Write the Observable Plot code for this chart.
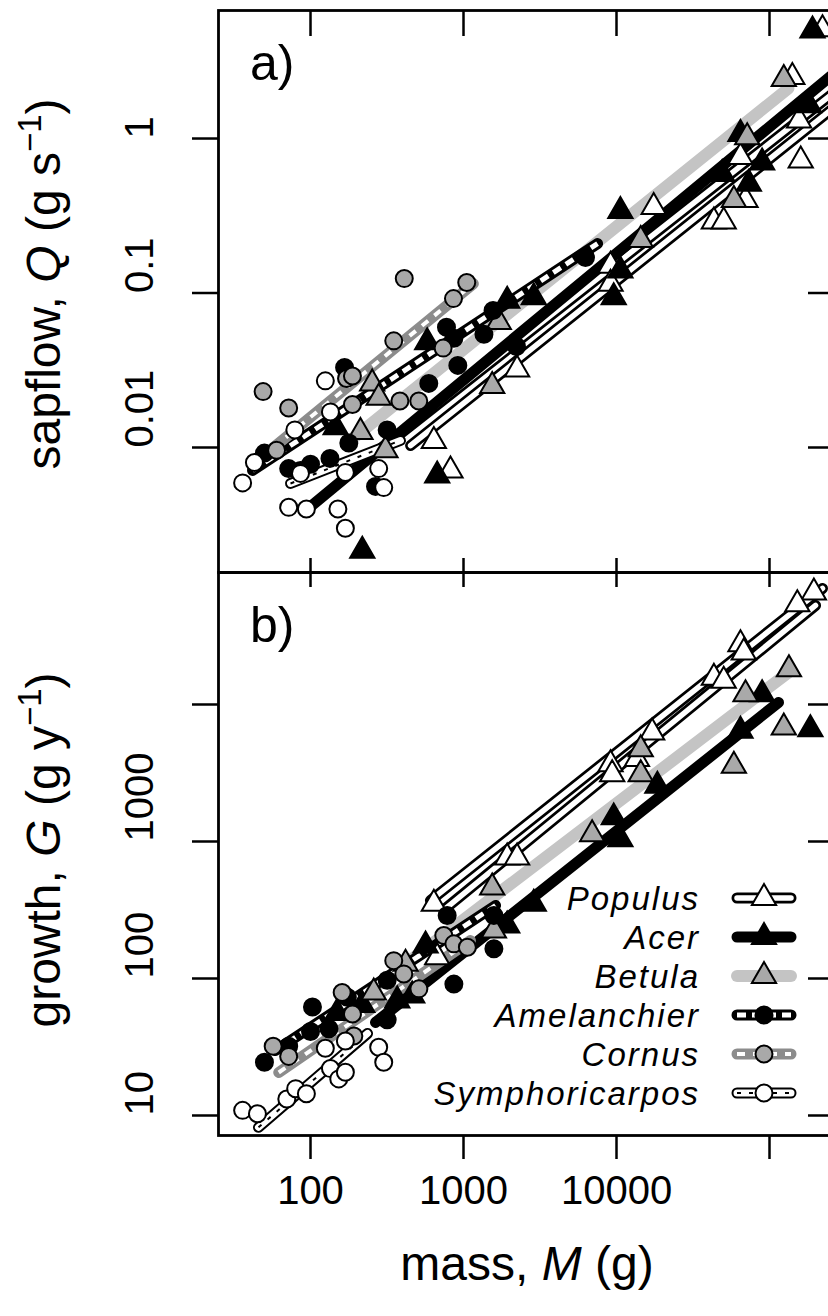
<!DOCTYPE html>
<html><head><meta charset="utf-8">
<script src="https://cdn.jsdelivr.net/npm/d3@7"></script>
<script src="https://cdn.jsdelivr.net/npm/@observablehq/plot@0.6"></script>
<style>
html,body{margin:0;padding:0;background:#fff;overflow:hidden;width:828px;height:1316px;}
#chart{width:860px;}
#chart svg{display:block;max-width:none;}
</style></head><body><div id="chart"></div>
<script>
// ---------- data ----------
const species = ["Populus","Acer","Betula","Amelanchier","Cornus","Symphoricarpos"];

const xTicks = [100, 1000, 10000, 100000];
const xTickLabels = ["100","1000","10000",""];
const yTicksA = [0.01, 0.1, 1];
const yTickLabelsA = ["0.01","0.1","1"];
const yTicksB = [10, 100, 1000, 10000];
const yTickLabelsB = ["10","100","1000",""];

// panel a: sapflow Q (g/s) vs mass M (g)
const populusMassQ = [17500, 64600, 160000, 156000, 69700, 43300, 50200, 9140, 9140, 2240, 640, 822, 141000, 222000];
const populusQ     = [0.36, 0.76, 0.72, 1.31, 0.40, 0.29, 0.29, 0.15, 0.115, 0.032, 0.011, 0.0071, 2.5, 5.1];
const acerMassQ = [10600, 64600, 49100, 89500, 73300, 181000, 191000, 9590, 10600, 1930, 2880, 579, 146, 218, 673];
const acerQ     = [0.34, 1.07, 0.59, 0.70, 0.51, 1.64, 5.0, 0.094, 0.14, 0.089, 0.094, 0.048, 0.0135, 0.00215, 0.0066];
const betulaMassQ = [124000, 71500, 14400, 1540, 1700, 58500, 253, 279, 212, 309];
const betulaQ     = [2.43, 1.02, 0.22, 0.025, 0.065, 0.40, 0.026, 0.021, 0.0126, 0.0096];
const amelMassQ = [167, 774, 865, 1560, 1360, 918, 593, 317, 178, 134, 100, 72, 50, 86, 266, 2220, 6270];
const amelQ     = [0.033, 0.060, 0.051, 0.077, 0.054, 0.034, 0.026, 0.013, 0.0107, 0.0085, 0.0078, 0.0073, 0.0092, 0.0071, 0.0056, 0.045, 0.17];
const cornusMassQ = [410, 1050, 860, 350, 49, 72, 172, 188, 384, 510, 60, 736, 188];
const cornusQ     = [0.124, 0.117, 0.092, 0.049, 0.023, 0.018, 0.028, 0.019, 0.020, 0.020, 0.0096, 0.044, 0.029];
const symphMassQ = [36, 43, 79, 135, 125, 72, 94, 151, 169, 169, 279, 301, 86];
const symphQ     = [0.0059, 0.0080, 0.013, 0.017, 0.027, 0.0041, 0.0040, 0.0040, 0.0030, 0.0069, 0.0073, 0.0055, 0.0068];

// panel b: growth G (g/y) vs mass M (g)
const populusMassG = [195000, 152000, 64600, 67900, 43300, 50200, 17100, 13600, 9140, 9370, 1930, 2240, 640, 673];
const populusG     = [65700, 54000, 27500, 24000, 15700, 14900, 6250, 4000, 3660, 3100, 764, 764, 351, 143];
const acerMassG = [89500, 185000, 64600, 18500, 9590, 10600, 2880, 1930, 565, 462, 369, 218, 149];
const acerG     = [11900, 6600, 6430, 2550, 1500, 1040, 351, 244, 174, 75, 69, 64, 56];
const betulaMassG = [134000, 69700, 124000, 58500, 14400, 14400, 6930, 1540, 1580, 259, 418];
const betulaG     = [18100, 11900, 6790, 3570, 4720, 3100, 1130, 461, 224, 79, 128];
const amelMassG = [782, 1580, 1580, 865, 317, 174, 103, 100, 132, 317, 50, 72];
const amelG     = [288, 288, 165, 91, 97, 73, 62, 41, 43, 50, 24.5, 32];
const cornusMassG = [743, 865, 1060, 350, 407, 511, 188, 57, 72, 192, 161];
const cornusG     = [206, 179, 169, 135, 108, 84, 55, 32, 27, 38, 79];
const symphMassG = [36, 45, 70, 80, 94, 135, 153, 169, 125, 169, 279, 301];
const symphG     = [10.9, 10.3, 13.2, 15.7, 14.4, 22, 18.5, 20.7, 31, 35, 31.5, 24.5];

// fitted lines (end points)
const fitSpecies = ["Populus","Populus","Acer","Betula","Amelanchier","Cornus","Symphoricarpos"];
const fitMassFromA = [451, 387, 92.8, 182, 41.8, 57.3, 74];
const fitMassToA   = [250000, 250000, 250000, 133000, 7520, 1160, 387];
const fitQFromA    = [0.0103, 0.0123, 0.0039, 0.0111, 0.0071, 0.0100, 0.00585];
const fitQToA      = [1.52, 1.90, 2.52, 2.11, 0.209, 0.115, 0.0111];
const fitMassFromB = [608, 762, 266, 247, 59, 62, 45.7];
const fitMassToB   = [222000, 200000, 114500, 133000, 1620, 1110, 236];
const fitGFromB    = [371, 324, 47.8, 81.7, 29.8, 20.6, 8.2];
const fitGToB      = [70300, 52800, 10340, 17140, 341, 189, 39.7];

// ---------- tables ----------
const massQ = [populusMassQ, acerMassQ, betulaMassQ, amelMassQ, cornusMassQ, symphMassQ];
const valQ  = [populusQ, acerQ, betulaQ, amelQ, cornusQ, symphQ];
const massG = [populusMassG, acerMassG, betulaMassG, amelMassG, cornusMassG, symphMassG];
const valG  = [populusG, acerG, betulaG, amelG, cornusG, symphG];
const pointsA = species.flatMap((s, k) => massQ[k].map((m, i) => ({species: s, m, v: valQ[k][i]})));
const pointsB = species.flatMap((s, k) => massG[k].map((m, i) => ({species: s, m, v: valG[k][i]})));
const fitsA = fitSpecies.map((s, i) => ({species: s, m1: fitMassFromA[i], m2: fitMassToA[i], v1: fitQFromA[i], v2: fitQToA[i]}));
const fitsB = fitSpecies.map((s, i) => ({species: s, m1: fitMassFromB[i], m2: fitMassToB[i], v1: fitGFromB[i], v2: fitGToB[i]}));

// ---------- styles ----------
const FONT = "'Liberation Sans', Arial, Helvetica, sans-serif";
const lineStyles = {
  Populus: [{stroke: "black", w: 11}, {stroke: "white", w: 5.5}],
  Acer: [{stroke: "black", w: 11}],
  Betula: [{stroke: "#c4c4c4", w: 12}],
  Amelanchier: [{stroke: "black", w: 11}, {stroke: "white", w: 5, dash: "9,6"}],
  Cornus: [{stroke: "#8c8c8c", w: 11}, {stroke: "white", w: 4, dash: "8,8"}],
  Symphoricarpos: [{stroke: "black", w: 11}, {stroke: "white", w: 7}, {stroke: "black", w: 2, dash: "4,8"}]
};
const markerStyles = {
  Populus: {symbol: "triangle", fill: "white", r: 9},
  Acer: {symbol: "triangle", fill: "black", r: 9},
  Betula: {symbol: "triangle", fill: "#a9a9a9", r: 9},
  Amelanchier: {symbol: "circle", fill: "black", r: 8.5},
  Cornus: {symbol: "circle", fill: "#a9a9a9", r: 8.5},
  Symphoricarpos: {symbol: "circle", fill: "white", r: 8.5}
};

function lineMarks(fits) {
  const marks = [];
  for (const sp of species) {
    const rows = fits.filter(d => d.species === sp);
    for (const p of lineStyles[sp]) {
      marks.push(Plot.link(rows, {x1: "m1", y1: "v1", x2: "m2", y2: "v2",
        stroke: p.stroke, strokeWidth: p.w, strokeLinecap: p.dash ? "butt" : "round",
        strokeDasharray: p.dash}));
    }
  }
  return marks;
}
function dotMarks(points) {
  return species.map(sp => {
    const ms = markerStyles[sp];
    return Plot.dot(points.filter(d => d.species === sp), {x: "m", y: "v",
      symbol: ms.symbol, fill: ms.fill, stroke: "black", strokeWidth: 2, r: ms.r});
  });
}

// ---------- layout ----------
const W = 860, ML = 218, MR = 28, FW = W - ML - MR; // frame 218..832
const xDomain = [25.04, 258100];
const HA = 572, MTA = 10, FHA = HA - MTA;           // panel a frame 10..572
const HB = 744, MBB = 181, FHB = HB - MBB;          // panel b frame 572..1135
const TICKFONT = 40;
const styleObj = {fontFamily: FONT, fontSize: TICKFONT + "px", color: "black", background: "white", maxWidth: "none", overflow: "visible"};
const tickW = 2.5;

const plotA = Plot.plot({
  width: W, height: HA, marginLeft: ML, marginRight: MR, marginTop: MTA, marginBottom: 0,
  style: styleObj,
  x: {type: "log", domain: xDomain, axis: null},
  y: {type: "log", domain: [0.001552, 6.74], axis: null},
  marks: [
    ...lineMarks(fitsA),
    ...dotMarks(pointsA),
    Plot.frame({stroke: "black", strokeWidth: 2.8}),
    Plot.ruleX(xTicks, {insetBottom: FHA - 26, strokeWidth: tickW}),
    Plot.ruleX(xTicks, {insetTop: FHA - 14, strokeWidth: tickW}),
    Plot.ruleY(yTicksA, {insetLeft: FW - 24, strokeWidth: tickW}),
    Plot.axisY({ticks: yTicksA, tickSize: 26, tickFormat: () => "", label: null, strokeWidth: tickW}),
    Plot.text(yTicksA, {y: d => d, text: d => yTickLabelsA[yTicksA.indexOf(d)], frameAnchor: "left",
      dx: -78, rotate: -90, fontSize: TICKFONT, fill: "black"})
  ]
});

const plotB = Plot.plot({
  width: W, height: HB, marginLeft: ML, marginRight: MR, marginTop: 0, marginBottom: MBB,
  style: styleObj,
  x: {type: "log", domain: xDomain, axis: null},
  y: {type: "log", domain: [7.145, 91930], axis: null},
  marks: [
    ...lineMarks(fitsB),
    ...dotMarks(pointsB),
    Plot.frame({stroke: "black", strokeWidth: 2.8}),
    Plot.ruleX(xTicks, {insetBottom: FHB - 15, strokeWidth: tickW}),
    Plot.ruleY(yTicksB, {insetLeft: FW - 24, strokeWidth: tickW}),
    Plot.axisY({ticks: yTicksB, tickSize: 26, tickFormat: () => "", label: null, strokeWidth: tickW}),
    Plot.axisX({ticks: xTicks, tickSize: 24, tickPadding: 16, label: null, strokeWidth: tickW,
      tickFormat: d => xTickLabels[xTicks.indexOf(d)], fontSize: TICKFONT}),
    Plot.text(yTicksB, {y: d => d, text: d => yTickLabelsB[yTicksB.indexOf(d)], frameAnchor: "left",
      dx: -78, rotate: -90, fontSize: TICKFONT, fill: "black"})
  ]
});

const chart = document.getElementById("chart");
chart.appendChild(plotA);
chart.appendChild(plotB);

// ---------- annotations ----------
function title(svg, x, y, rotate, parts) {
  const t = d3.select(svg).append("text")
    .attr("transform", `translate(${x},${y}) rotate(${rotate})`)
    .attr("text-anchor", "middle").attr("font-family", FONT).attr("font-size", 48).attr("fill", "black");
  for (const p of parts) {
    const s = t.append("tspan").text(p.t);
    if (p.i) s.attr("font-style", "italic");
    if (p.sup) s.attr("font-size", 33).attr("dy", -19);
    if (p.down) s.attr("dy", 19);
  }
}
title(plotA, 60, 284, -90, [{t: "sapflow, "}, {t: "Q", i: true}, {t: " (g s"}, {t: "\u22121", sup: true}, {t: ")", down: true}]);
title(plotB, 60, 278, -90, [{t: "growth, "}, {t: "G", i: true}, {t: " (g y"}, {t: "\u22121", sup: true}, {t: ")", down: true}]);
title(plotB, 527, 708, 0, [{t: "mass, "}, {t: "M", i: true}, {t: " (g)"}]);

d3.select(plotA).append("text").attr("x", 250).attr("y", 80).attr("text-anchor", "start")
  .attr("font-family", FONT).attr("font-size", 50).attr("fill", "black").text("a)");
d3.select(plotB).append("text").attr("x", 250).attr("y", 70).attr("text-anchor", "start")
  .attr("font-family", FONT).attr("font-size", 50).attr("fill", "black").text("b)");

// legend (panel b)
const lg = d3.select(plotB).append("g");
species.forEach((sp, i) => {
  const y = 326 + 39 * i;
  lg.append("text").attr("x", 700).attr("y", y).attr("text-anchor", "end")
    .attr("dominant-baseline", "central").attr("font-family", FONT).attr("font-style", "italic")
    .attr("font-size", 33).attr("letter-spacing", "2px").attr("fill", "black").text(sp);
  for (const p of lineStyles[sp]) {
    lg.append("line").attr("x1", 737).attr("x2", 791).attr("y1", y).attr("y2", y)
      .attr("stroke", p.stroke).attr("stroke-width", p.w)
      .attr("stroke-linecap", p.dash ? "butt" : "round")
      .attr("stroke-dasharray", p.dash || null);
  }
  const ms = markerStyles[sp];
  const sym = ms.symbol === "triangle" ? d3.symbolTriangle : d3.symbolCircle;
  lg.append("path").attr("transform", `translate(764,${y})`)
    .attr("d", d3.symbol(sym, Math.PI * ms.r * ms.r)())
    .attr("fill", ms.fill).attr("stroke", "black").attr("stroke-width", 2);
});
</script></body></html>
